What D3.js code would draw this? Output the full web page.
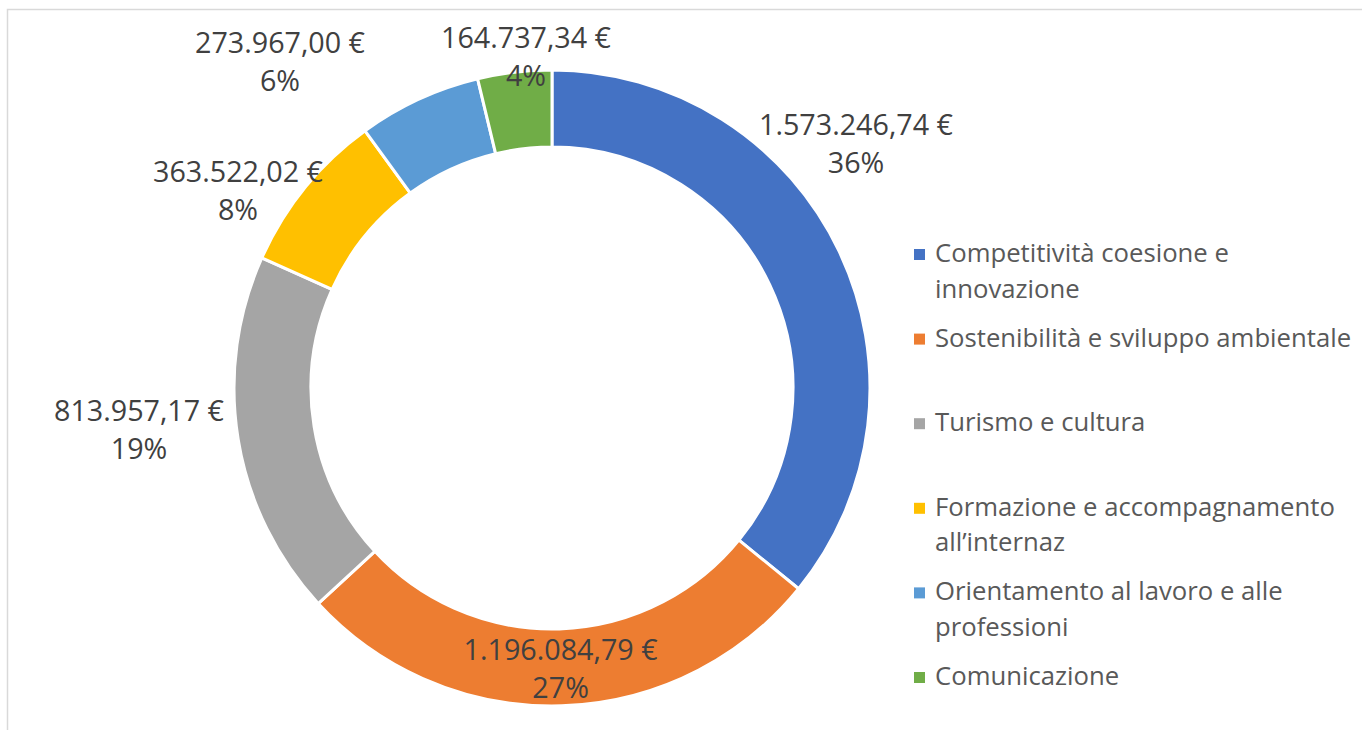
<!DOCTYPE html>
<html>
<head>
<meta charset="utf-8">
<script src="https://cdn.jsdelivr.net/npm/d3@7"></script>
<style>
  body { margin: 0; background: #fff; }
  svg text { font-family: "Open Sans", "Noto Sans", sans-serif; }
</style>
</head>
<body>
<div id="chart"></div>
<script>
// data
var categories = ["Competitività coesione e innovazione", "Sostenibilità e sviluppo ambientale",
  "Turismo e cultura", "Formazione e accompagnamento all’internaz",
  "Orientamento al lavoro e alle professioni", "Comunicazione"];
var legendLines = [["Competitività coesione e", "innovazione"], ["Sostenibilità e sviluppo ambientale"],
  ["Turismo e cultura"], ["Formazione e accompagnamento", "all’internaz"],
  ["Orientamento al lavoro e alle", "professioni"], ["Comunicazione"]];
var amounts = [1573246.74, 1196084.79, 813957.17, 363522.02, 273967.00, 164737.34];
var colors = ["#4472C4", "#ED7D31", "#A5A5A5", "#FFC000", "#5B9BD5", "#70AD47"];

// label anchors relative to the donut centre (first line baseline); null = arc centroid
var labelPos = [[304, -253], null, [-413, 33], [-314, -206], [-272, -335], [-26, -340]];

var width = 1362, height = 730;
var cx = 552, cy = 388, outerR = 318, innerR = 241;

var svg = d3.select("#chart").append("svg")
  .attr("width", width).attr("height", height);

// chart area border
svg.append("rect")
  .attr("x", 7.5).attr("y", 9.5)
  .attr("width", 1400).attr("height", 800)
  .attr("fill", "none").attr("stroke", "#D9D9D9").attr("stroke-width", 1.5);

var total = d3.sum(amounts);
var pie = d3.pie().sort(null).value(function(d) { return d; });
var arc = d3.arc().innerRadius(innerR).outerRadius(outerR);
var arcs = pie(amounts);

var g = svg.append("g").attr("transform", "translate(" + cx + "," + cy + ")");

g.selectAll("path.slice")
  .data(arcs)
  .enter().append("path")
  .attr("class", "slice")
  .attr("d", arc)
  .attr("fill", function(d, i) { return colors[i]; })
  .attr("stroke", "#fff")
  .attr("stroke-width", 3)
  .attr("stroke-linejoin", "miter");

var fmtNum = d3.formatLocale({ decimal: ",", thousands: ".", grouping: [3], currency: ["", " €"] }).format("$,.2f");

var labels = g.selectAll("g.lbl")
  .data(arcs)
  .enter().append("g")
  .attr("class", "lbl")
  .attr("transform", function(d, i) {
    var p = labelPos[i];
    if (!p) { var c = arc.centroid(d); p = [c[0], c[1] - 7]; }
    return "translate(" + p[0] + "," + p[1] + ")";
  });

labels.append("text")
  .attr("text-anchor", "middle")
  .attr("fill", "#404040")
  .style("font-size", "28.7px")
  .text(function(d) { return fmtNum(d.data); });

labels.append("text")
  .attr("text-anchor", "middle")
  .attr("y", 38)
  .attr("fill", "#404040")
  .style("font-size", "28.7px")
  .text(function(d) { return Math.round(d.data / total * 100) + "%"; });

// legend
var legendY = d3.scaleLinear().domain([0, categories.length - 1]).range([262, 685]);
var legend = svg.append("g").selectAll("g")
  .data(categories)
  .enter().append("g")
  .attr("transform", function(d, i) { return "translate(914," + legendY(i) + ")"; });

legend.append("rect")
  .attr("x", 0).attr("y", -13)
  .attr("width", 11).attr("height", 11)
  .attr("fill", function(d, i) { return colors[i]; });

legend.append("text")
  .attr("x", 21)
  .attr("fill", "#595959")
  .style("font-size", "25.7px")
  .selectAll("tspan")
  .data(function(d, i) { return legendLines[i]; })
  .enter().append("tspan")
  .attr("x", 21)
  .attr("dy", function(d, j) { return j === 0 ? 0 : 35.5; })
  .text(function(d) { return d; });
</script>
</body>
</html>
